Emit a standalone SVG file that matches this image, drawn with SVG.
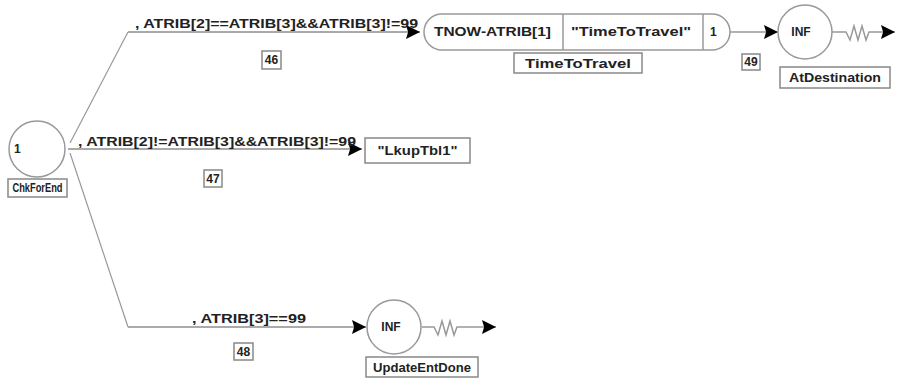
<svg xmlns="http://www.w3.org/2000/svg" width="917" height="385" viewBox="0 0 917 385">
  <defs>
    <marker id="arrow" viewBox="0 0 10 10" refX="10" refY="5" markerWidth="20" markerHeight="14" markerUnits="userSpaceOnUse" orient="auto">
      <path d="M0,0 L10,5 L0,10 L1.5,5 Z" fill="#000"/>
    </marker>
    <style>
      text { font-family: "Liberation Sans", Arial, sans-serif; font-size: 12px; font-weight: bold; fill: #222; }
      .node { fill: #fff; stroke: #999; stroke-width: 1.5; }
      .label { fill: #fff; stroke: #888; stroke-width: 1.5; }
      .edge { fill: none; stroke: #aaa; stroke-width: 2; }
      .slant { fill: none; stroke: #999; stroke-width: 1.2; }
      .act { fill: none; stroke: #999; stroke-width: 1.5; }
      .mid { text-anchor: middle; }
    </style>
  </defs>

  <!-- branch activities leaving ChkForEnd -->
  <g id="connectors">
    <polyline class="slant" points="70,143 128,32"/>
    <line class="edge" x1="128" y1="32" x2="420" y2="32" marker-end="url(#arrow)"/>
    <line class="edge" x1="68" y1="149" x2="362" y2="149" marker-end="url(#arrow)"/>
    <polyline class="slant" points="70,153 128,327"/>
    <line class="edge" x1="128" y1="327" x2="366" y2="327" marker-end="url(#arrow)"/>
    <line class="act" x1="730" y1="32" x2="778" y2="32" marker-end="url(#arrow)"/>
    <polyline class="act" points="832,32 846,32 850,40 854,26 858,40 862,26 866,40 869,32 873,32" />
    <line class="act" x1="873" y1="32" x2="895" y2="32" marker-end="url(#arrow)"/>
    <polyline class="act" points="422,327 434,327 438,335 442,321 446,335 450,321 454,335 457,327 463,327"/>
    <line class="act" x1="463" y1="327" x2="496" y2="327" marker-end="url(#arrow)"/>

    <text x="135" y="28" textLength="283" lengthAdjust="spacingAndGlyphs">, ATRIB[2]==ATRIB[3]&amp;&amp;ATRIB[3]!=99</text>
    <text x="78" y="146" textLength="278" lengthAdjust="spacingAndGlyphs">, ATRIB[2]!=ATRIB[3]&amp;&amp;ATRIB[3]!=99</text>
    <text x="192" y="323" textLength="114" lengthAdjust="spacingAndGlyphs">, ATRIB[3]==99</text>

    <rect class="label" x="262" y="51" width="19" height="18"/>
    <text class="mid" x="271.5" y="64">46</text>
    <rect class="label" x="204" y="170" width="18" height="17"/>
    <text class="mid" x="213" y="183">47</text>
    <rect class="label" x="234" y="343" width="19" height="17"/>
    <text class="mid" x="243.5" y="356">48</text>
    <rect class="label" x="742" y="54" width="18" height="16"/>
    <text class="mid" x="751" y="66">49</text>
  </g>

  <g id="ChkForEnd">
    <circle class="node" cx="37" cy="149" r="28"/>
    <text x="14" y="153">1</text>
    <rect class="label" x="8" y="179" width="59" height="18"/>
    <text class="mid" x="37.5" y="192" textLength="50" lengthAdjust="spacingAndGlyphs">ChkForEnd</text>
  </g>

  <g id="TimeToTravel">
    <rect class="node" x="424" y="14" width="306" height="36" rx="18" ry="18"/>
    <line class="node" x1="563" y1="14" x2="563" y2="50"/>
    <line class="node" x1="703" y1="14" x2="703" y2="50"/>
    <text x="434" y="36" textLength="117" lengthAdjust="spacingAndGlyphs">TNOW-ATRIB[1]</text>
    <text x="571" y="36" textLength="120" lengthAdjust="spacingAndGlyphs">"TimeToTravel"</text>
    <text x="710" y="36">1</text>
    <rect class="label" x="514" y="53" width="128" height="20"/>
    <text class="mid" x="578" y="68" textLength="106" lengthAdjust="spacingAndGlyphs">TimeToTravel</text>
  </g>

  <g id="AtDestination">
    <circle class="node" cx="805" cy="32" r="27"/>
    <text class="mid" x="801" y="36">INF</text>
    <rect class="label" x="780" y="67" width="110" height="21"/>
    <text class="mid" x="835" y="82" textLength="92" lengthAdjust="spacingAndGlyphs">AtDestination</text>
  </g>

  <g id="LkupTbl1">
    <rect class="label" x="365" y="138" width="105" height="25"/>
    <text class="mid" x="417.5" y="155" textLength="80" lengthAdjust="spacingAndGlyphs">"LkupTbl1"</text>
  </g>

  <g id="UpdateEntDone">
    <circle class="node" cx="394" cy="327" r="27"/>
    <text class="mid" x="391" y="331">INF</text>
    <rect class="label" x="366" y="357" width="112" height="20"/>
    <text class="mid" x="422" y="372" textLength="98" lengthAdjust="spacingAndGlyphs">UpdateEntDone</text>
  </g>
</svg>
